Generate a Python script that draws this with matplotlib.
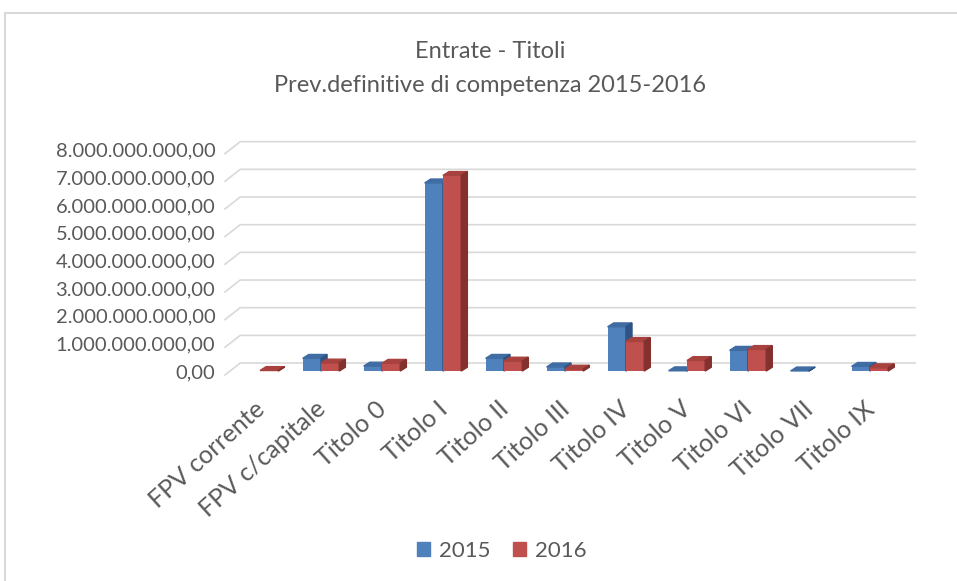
"""
Entrate - Titoli: previsioni definitive di competenza 2015-2016 (colonne 3D stile Excel).
"""
import matplotlib.pyplot as plt
from matplotlib.patches import Polygon, Rectangle, Patch
from matplotlib.ticker import FuncFormatter

categorie = ["FPV corrente", "FPV c/capitale", "Titolo 0", "Titolo I", "Titolo II",
             "Titolo III", "Titolo IV", "Titolo V", "Titolo VI", "Titolo VII", "Titolo IX"]
anni = ["2015", "2016"]
prev_2015 = [0, 460e6, 180e6, 6.80e9, 460e6, 150e6, 1.60e9, 10e6, 750e6, 5e6, 170e6]
prev_2016 = [20e6, 290e6, 280e6, 7.07e9, 360e6, 70e6, 1.07e9, 380e6, 780e6, 0, 120e6]
valori_y = [0, 1e9, 2e9, 3e9, 4e9, 5e9, 6e9, 7e9, 8e9]

col_front = ["#4F81BD", "#C0504D"]
col_top = ["#3F6CA3", "#A8423F"]
col_side = ["#2E5485", "#83302E"]
testo = "#595959"

plt.rcParams["font.family"] = ["Lato", "DejaVu Sans"]

fig = plt.figure(figsize=(9.57, 5.81), dpi=100)
ax = fig.add_axes([0.2351, 0.3518, 0.721, 0.4096])

xmin, xmax = -0.574, 10.74
ax.set_xlim(xmin, xmax)
ax.set_ylim(-0.2e9, 8.4e9)

# griglia sulla parete di fondo, con il tratto obliquo a sinistra
for v in valori_y:
    ax.plot([xmin, xmin + 0.25, xmax], [v - 0.14e9, v + 0.29e9, v + 0.29e9],
            color="#D9D9D9", lw=1.2, zorder=0, clip_on=False)

w, dx, dy = 0.3, 0.1, 0.14e9
pos = range(len(categorie))
for i in pos:
    for k, serie in enumerate([prev_2015, prev_2016]):
        h = serie[i]
        if h <= 0:
            continue
        x = i - w if k == 0 else i
        bar = ax.bar(x, h, width=w, align="edge", color=col_front[k], zorder=2)[0]
        x0, bw, bh = bar.get_x(), bar.get_width(), bar.get_height()
        ax.add_patch(Polygon([(x0, bh), (x0 + bw, bh), (x0 + bw + dx, bh + dy), (x0 + dx, bh + dy)],
                             closed=True, color=col_top[k], zorder=2))
        ax.add_patch(Polygon([(x0 + bw, 0), (x0 + bw + dx, dy), (x0 + bw + dx, bh + dy), (x0 + bw, bh)],
                             closed=True, color=col_side[k], zorder=2))

ax.set_yticks(valori_y)
ax.yaxis.set_major_formatter(FuncFormatter(
    lambda v, p: f"{v:,.2f}".replace(",", "X").replace(".", ",").replace("X", ".")))
ax.tick_params(axis="y", length=0, pad=7, labelsize=14.5, labelcolor=testo)

ax.set_xticks(list(pos))
ax.set_xticklabels([])
for i, c in enumerate(categorie):
    ax.text(i + 0.02, -1.25e9, c, rotation=42, ha="right", va="center",
            rotation_mode="anchor", fontsize=18, color=testo)
ax.tick_params(axis="x", length=0)

for s in ax.spines.values():
    s.set_visible(False)

fig.text(0.512, 0.9105, "Entrate - Titoli", ha="center", va="center", fontsize=17, color=testo)
fig.text(0.512, 0.852, "Prev.definitive di competenza 2015-2016", ha="center", va="center",
         fontsize=17, color=testo)

fig.patches.append(Rectangle((5 / 957, -0.1), 1.2, 0.9776 + 0.1, transform=fig.transFigure,
                             fill=False, ec="#D9D9D9", lw=1.5))

handles = [Patch(color=col_front[0], label=anni[0]), Patch(color=col_front[1], label=anni[1])]
fig.legend(handles=handles, loc="center", bbox_to_anchor=(0.524, 0.0516), ncol=2, frameon=False,
           handlelength=0.6, handleheight=0.6, handletextpad=0.4, columnspacing=1.0,
           fontsize=16, labelcolor=testo)

plt.savefig("out.png", dpi=100)
plt.close()
